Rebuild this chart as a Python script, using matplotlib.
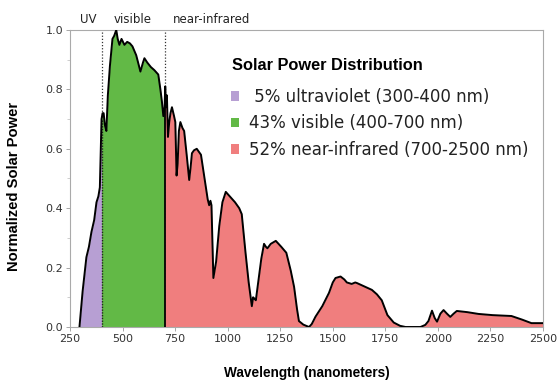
import numpy as np
import matplotlib
matplotlib.use("Agg")
import matplotlib.pyplot as plt
from matplotlib.patches import Patch

# ---- data ----
wavelength = [295, 310, 328, 340, 352, 365, 376, 385, 392, 397, 400,
              405, 410, 416, 423, 430, 440, 452, 460, 470, 477, 485, 495,
              509, 522, 535, 547, 565, 578, 585, 597, 604, 618, 635, 651,
              670, 680, 687, 694, 700,
              703, 707, 711, 716, 722, 728, 735, 745, 751, 757, 762, 768,
              775, 785, 793, 805, 817, 824, 830, 840, 853, 863, 873, 890,
              905, 912, 918, 923, 932, 945, 960, 975, 991, 1010, 1035, 1055,
              1067, 1085, 1100, 1115, 1121, 1128, 1134, 1145, 1160, 1173,
              1182, 1189, 1205, 1229, 1255, 1279, 1300, 1316, 1330, 1339,
              1360, 1387, 1400, 1418, 1450, 1482, 1500, 1513, 1537, 1555,
              1567, 1590, 1607, 1615, 1640, 1686, 1710, 1733, 1760, 1790,
              1820, 1846, 1917, 1940, 1955, 1972, 1985, 1996, 2012, 2027,
              2043, 2059, 2075, 2090, 2140, 2193, 2260, 2350, 2400, 2445, 2500]
power = [0.0, 0.12, 0.235, 0.27, 0.32, 0.36, 0.42, 0.44, 0.47, 0.62, 0.70,
         0.72, 0.72, 0.68, 0.66, 0.78, 0.88, 0.97, 0.98, 1.0, 0.97, 0.95, 0.97,
         0.95, 0.96, 0.955, 0.945, 0.915, 0.88, 0.86, 0.89, 0.905, 0.89, 0.875, 0.865,
         0.85, 0.80, 0.76, 0.71, 0.74,
         0.81, 0.74, 0.78, 0.64, 0.69, 0.72, 0.74, 0.71, 0.69, 0.51, 0.55, 0.66,
         0.69, 0.67, 0.66, 0.58, 0.495, 0.54, 0.585, 0.595, 0.60, 0.59, 0.58, 0.50,
         0.43, 0.41, 0.425, 0.41, 0.165, 0.22, 0.34, 0.42, 0.455, 0.44, 0.42, 0.40,
         0.38, 0.25, 0.15, 0.07, 0.10, 0.095, 0.09, 0.15, 0.23, 0.28,
         0.27, 0.265, 0.28, 0.29, 0.27, 0.25, 0.19, 0.135, 0.06, 0.02,
         0.008, 0.0, 0.01, 0.035, 0.07, 0.115, 0.15, 0.165, 0.17, 0.16,
         0.15, 0.145, 0.15, 0.148, 0.14, 0.125, 0.11, 0.09, 0.04, 0.015,
         0.004, 0.0, 0.0, 0.007, 0.02, 0.055, 0.03, 0.018, 0.045, 0.057,
         0.045, 0.034, 0.045, 0.054, 0.05, 0.044, 0.04, 0.037, 0.025, 0.013, 0.013]

band_edges = [400, 700]
band_labels = ["UV", "visible", "near-infrared"]
band_label_x = [338, 547, 922]
legend_title = "Solar Power Distribution"
legend_labels = [" 5% ultraviolet (300-400 nm)", "43% visible (400-700 nm)",
                 "52% near-infrared (700-2500 nm)"]
colors = ["#b79fd3", "#62b946", "#f07e7e"]
x_ticks = [250, 500, 750, 1000, 1250, 1500, 1750, 2000, 2250, 2500]
y_ticks = [0.0, 0.2, 0.4, 0.6, 0.8, 1.0]

bold_font = ["Liberation Sans", "DejaVu Sans"]

wl = np.array(wavelength, dtype=float)
pw = np.array(power, dtype=float)

fig = plt.figure(figsize=(5.58, 3.83), dpi=100)
ax = fig.add_axes([70 / 558, 1 - 327 / 383, (543 - 70) / 558, (327 - 30) / 383])

masks = [wl <= band_edges[0],
         (wl >= band_edges[0]) & (wl <= band_edges[1]),
         wl >= band_edges[1]]
for m, c in zip(masks, colors):
    ax.fill_between(wl[m], 0, pw[m], color=c, lw=0, zorder=2)

for e in band_edges:
    ax.axvline(e, color="#333333", lw=0.9, ls=(0, (1, 1.5)), zorder=1)
ax.vlines(band_edges[1], 0, np.interp(band_edges[1], wl, pw), color="black", lw=1.3, zorder=3)
ax.vlines(band_edges[0], 0, np.interp(band_edges[0], wl, pw), color="#222222", lw=1.0,
          ls=(0, (1, 1)), zorder=3)
ax.plot(wl, pw, color="black", lw=1.4, zorder=4, solid_joinstyle="round")

ax.set_xlim(250, 2500)
ax.set_ylim(0, 1.0)
ax.set_xticks(x_ticks)
ax.set_yticks(y_ticks)
ax.set_yticklabels([f"{v:.1f}" for v in y_ticks])
ax.set_yticks(np.arange(0.1, 1.0, 0.2), minor=True)
ax.tick_params(axis="both", which="major", direction="out", length=3, width=0.6,
               color="#999999", labelsize=8, labelcolor="#333333", pad=2)
ax.tick_params(axis="y", which="minor", direction="out", length=2, width=0.5, color="#bbbbbb")
for s in ax.spines.values():
    s.set_color("#aaaaaa")
    s.set_linewidth(0.8)

ax.set_xlabel("Wavelength (nanometers)", fontsize=9.8, fontweight="bold", family=bold_font)
ax.set_ylabel("Normalized Solar Power", fontsize=10.6, fontweight="bold", family=bold_font)
ax.xaxis.set_label_coords(0.5, -(373 - 327) / 297, transform=ax.transAxes)
ax.yaxis.set_label_coords(-(70 - 14) / 473, (327 - 186) / 297, transform=ax.transAxes)
ax.xaxis.label.set_va("center")
ax.yaxis.label.set_va("center")

trans = matplotlib.transforms.blended_transform_factory(ax.transData, ax.transAxes)
for lx, lab in zip(band_label_x, band_labels):
    ax.text(lx, 1.035, lab, transform=trans, ha="center", va="center", fontsize=8.5,
            color="#222222")

# legend title as its own text, entries as a frameless legend
fig.text(232 / 558, 1 - 66 / 383, legend_title, ha="left", va="center",
         fontsize=11.8, fontweight="bold", family=bold_font, color="black")
handles = [Patch(facecolor=c, edgecolor="none") for c in colors]
leg = ax.legend(handles, legend_labels, loc="upper left",
                bbox_to_anchor=(231 / 558, 1 - 88 / 383), bbox_transform=fig.transFigure,
                frameon=False, fontsize=12, handlelength=0.5, handleheight=0.5,
                handletextpad=0.6, labelspacing=0.5, borderpad=0, borderaxespad=0)
for t in leg.get_texts():
    t.set_color("#222222")

fig.savefig("out.png", dpi=100)
